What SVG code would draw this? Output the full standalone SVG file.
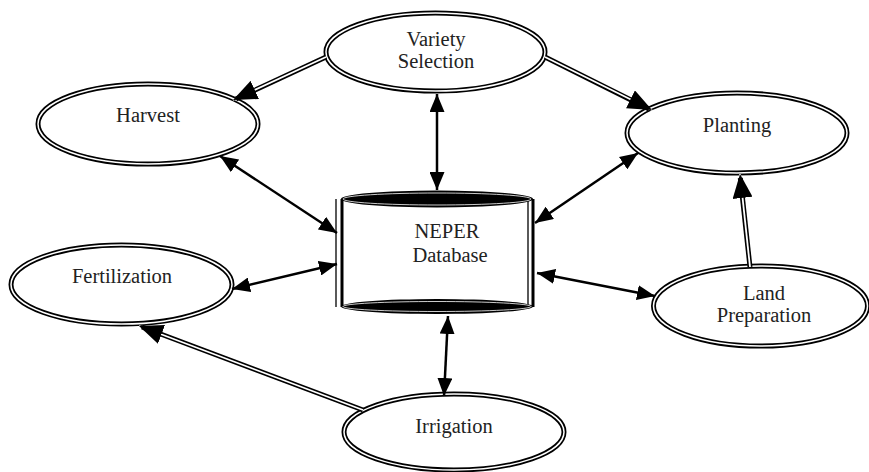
<svg xmlns="http://www.w3.org/2000/svg" width="869" height="472" viewBox="0 0 869 472">
<defs>
<style>
.ol{fill:#fff;stroke:#000;stroke-width:5}
.il{fill:none;stroke:#fff;stroke-width:1.5}
.t{font-family:"Liberation Serif","Times New Roman",serif;font-size:20.5px;fill:#222;text-anchor:middle}
.d1{stroke:#000;stroke-width:5;fill:none}
.d2{stroke:#fff;stroke-width:1.8;fill:none;marker-end:url(#ah2)}
.s{stroke:#000;stroke-width:2.5;fill:none;marker-start:url(#ah1s);marker-end:url(#ah1)}
</style>
<marker id="ah2" markerUnits="userSpaceOnUse" markerWidth="24" markerHeight="20" refX="24" refY="10" orient="auto" viewBox="0 0 24 20"><path d="M0,0 L24,10 L0,20 z" fill="#000"/></marker>
<marker id="ah1" markerUnits="userSpaceOnUse" markerWidth="18" markerHeight="15" refX="18" refY="7.5" orient="auto" viewBox="0 0 18 15"><path d="M0,0 L18,7.5 L0,15 z" fill="#000"/></marker>
<marker id="ah1s" markerUnits="userSpaceOnUse" markerWidth="18" markerHeight="15" refX="18" refY="7.5" orient="auto-start-reverse" viewBox="0 0 18 15"><path d="M0,0 L18,7.5 L0,15 z" fill="#000"/></marker>
</defs>
<rect width="869" height="472" fill="#fff"/>

<g id="variety">
<ellipse class="ol" cx="435.5" cy="52" rx="109.5" ry="39"/>
<ellipse class="il" cx="435.5" cy="52" rx="109.5" ry="39"/>
<text class="t" x="436" y="46">Variety</text>
<text class="t" x="436" y="68">Selection</text>
</g>
<g id="harvest">
<ellipse class="ol" cx="148" cy="124" rx="110" ry="40"/>
<ellipse class="il" cx="148" cy="124" rx="110" ry="40"/>
<text class="t" x="148" y="122">Harvest</text>
</g>
<g id="planting">
<ellipse class="ol" cx="737" cy="133" rx="110" ry="40"/>
<ellipse class="il" cx="737" cy="133" rx="110" ry="40"/>
<text class="t" x="737" y="132">Planting</text>
</g>
<g id="landprep">
<ellipse class="ol" cx="760.5" cy="306" rx="107" ry="40"/>
<ellipse class="il" cx="760.5" cy="306" rx="107" ry="40"/>
<text class="t" x="764" y="300">Land</text>
<text class="t" x="764" y="322">Preparation</text>
</g>
<g id="fertilization">
<ellipse class="ol" cx="121.5" cy="284.5" rx="110.5" ry="39.5"/>
<ellipse class="il" cx="121.5" cy="284.5" rx="110.5" ry="39.5"/>
<text class="t" x="122" y="283">Fertilization</text>
</g>
<g id="irrigation">
<ellipse class="ol" cx="454" cy="432" rx="110" ry="38"/>
<ellipse class="il" cx="454" cy="432" rx="110" ry="38"/>
<text class="t" x="454" y="433">Irrigation</text>
</g>
<g id="database">
<rect x="342" y="199" width="190" height="108" fill="#fff"/>
<line x1="336" y1="199" x2="336" y2="307" stroke="#000" stroke-width="1.3"/>
<line x1="342" y1="199" x2="342" y2="307" stroke="#000" stroke-width="3"/>
<line x1="528" y1="199" x2="528" y2="307" stroke="#000" stroke-width="1.3"/>
<line x1="533" y1="199" x2="533" y2="307" stroke="#000" stroke-width="3"/>
<ellipse cx="437" cy="199" rx="96" ry="8.5" fill="#000"/>
<ellipse cx="437" cy="199" rx="94" ry="6" fill="none" stroke="#fff" stroke-width="0.8"/>
<ellipse cx="437" cy="306.5" rx="96" ry="7.5" fill="#000"/>
<ellipse cx="437" cy="306.5" rx="94" ry="5" fill="none" stroke="#fff" stroke-width="0.8"/>
<text class="t" x="447" y="238">NEPER</text>
<text class="t" x="450" y="262">Database</text>
</g>

<g id="connectors">
<line class="d1" x1="326" y1="57" x2="236" y2="99"/>
<line class="d2" x1="326" y1="57" x2="233" y2="100"/>
<line class="d1" x1="545" y1="57" x2="649" y2="109"/>
<line class="d2" x1="545" y1="57" x2="652" y2="110"/>
<line class="d1" x1="750" y1="267" x2="740.3" y2="178"/>
<line class="d2" x1="750" y1="267" x2="740" y2="174"/>
<line class="d1" x1="363" y1="410" x2="142" y2="327"/>
<line class="d2" x1="363" y1="410" x2="139" y2="326"/>
<line class="s" x1="437" y1="94" x2="437" y2="190"/>
<line class="s" x1="220" y1="156" x2="337" y2="233"/>
<line class="s" x1="638" y1="153" x2="535" y2="223"/>
<line class="s" x1="232" y1="289" x2="337" y2="264"/>
<line class="s" x1="537" y1="273" x2="655" y2="296"/>
<line class="s" x1="448" y1="316" x2="444" y2="396"/>
</g>
</svg>
